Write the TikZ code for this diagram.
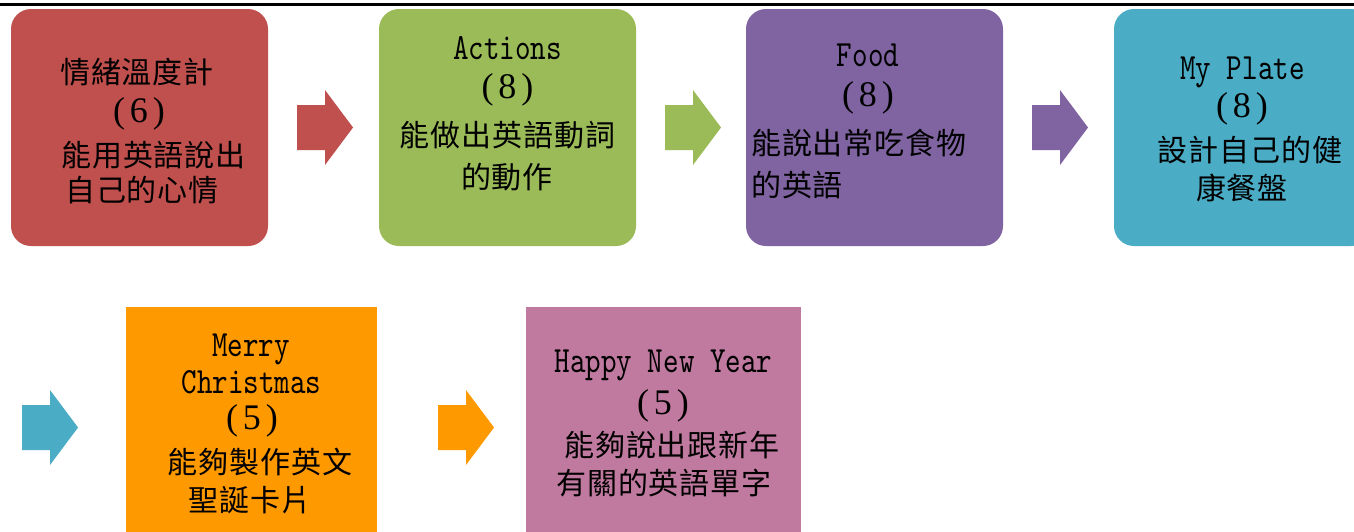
\documentclass[tikz,border=0pt]{standalone}
\usepackage{fontspec}
\newfontfamily\cjkfont[LetterSpace=3]{Noto Sans CJK TC}
\newfontfamily\latfont[FakeStretch=0.8]{lmmono10-regular.otf}
\newfontfamily\serfont{Liberation Serif}
\newcommand\zhtxt[1]{{\cjkfont\fontsize{30}{36}\selectfont #1}}
\newcommand\entxt[1]{{\latfont\fontsize{37}{44}\selectfont #1}}
\newcommand\partxt[1]{{\serfont\fontsize{36}{42}\selectfont(\kern5pt#1\kern5pt)}}
\definecolor{cred}{HTML}{C0504D}
\definecolor{cgreen}{HTML}{9BBB59}
\definecolor{cpurple}{HTML}{8064A2}
\definecolor{cteal}{HTML}{4BACC6}
\definecolor{corange}{HTML}{FF9900}
\definecolor{cpink}{HTML}{C0799F}
\begin{document}
\begin{tikzpicture}[x=1pt,y=-1pt,
  rbox/.style={rectangle, rounded corners=20pt, draw=none, inner sep=0pt,
    minimum width=257pt, minimum height=237pt},
  sbox/.style={rectangle, draw=none, inner sep=0pt, minimum height=253pt},
  tx/.style={anchor=base, inner sep=0pt, text=black},
  txl/.style={anchor=base west, inner sep=0pt, text=black},
  barrow/.pic={\fill (0,15) -- (28,15) -- (28,0) -- (56,37.5) -- (28,75) -- (28,60) -- (0,60) -- cycle;}
]
\useasboundingbox (0,0) rectangle (1354,531);
\clip (0,0) rectangle (1354,531);
\fill[white] (0,0) rectangle (1354,531);
\draw[line width=2.7pt] (0,4.7) -- (1354,4.7);

% row 1 boxes
\node[rbox, fill=cred] (b1) at (139.5,127.5) {};
\node[rbox, fill=cgreen] (b2) at (507.5,127.5) {};
\node[rbox, fill=cpurple] (b3) at (874.5,127.5) {};
\node[rbox, fill=cteal] (b4) at (1242.5,127.5) {};
% row 2 boxes
\node[sbox, fill=corange, minimum width=251pt] (b5) at (251.5,433.5) {};
\node[sbox, fill=cpink, minimum width=275pt] (b6) at (663.5,433.5) {};

% arrows
\pic[fill=cred] at (297,90) {barrow};
\pic[fill=cgreen] at (665,90) {barrow};
\pic[fill=cpurple] at (1032,90) {barrow};
\pic[fill=cteal] at (22,390) {barrow};
\pic[fill=corange] at (438,390) {barrow};

% box 1 text
\node[tx] (t1a) at (137,83) {\zhtxt{情緒溫度計}};
\node[tx] (t1b) at (139,122) {\partxt{6}};
\node[tx] (t1c) at (153.5,166) {\zhtxt{能用英語說出}};
\node[tx] (t1d) at (142,201) {\zhtxt{自己的心情}};
% box 2 text
\node[tx] (t2a) at (507.5,59) {\entxt{Actions}};
\node[tx] (t2b) at (507.5,98) {\partxt{8}};
\node[tx] (t2c) at (507.5,146) {\zhtxt{能做出英語動詞}};
\node[tx] (t2d) at (507,188) {\zhtxt{的動作}};
% box 3 text
\node[tx] (t3a) at (868,66) {\entxt{Food}};
\node[tx] (t3b) at (868,106) {\partxt{8}};
\node[txl] (t3c) at (751,154) {\zhtxt{能說出常吃食物}};
\node[txl] (t3d) at (751,196) {\zhtxt{的英語}};
% box 4 text
\node[tx] (t4a) at (1242.5,79) {\entxt{My Plate}};
\node[tx] (t4b) at (1242,117) {\partxt{8}};
\node[tx] (t4c) at (1250,161) {\zhtxt{設計自己的健}};
\node[tx] (t4d) at (1242,199) {\zhtxt{康餐盤}};
% box 5 text
\node[tx] (t5a) at (251,356) {\entxt{Merry}};
\node[tx] (t5b) at (251.5,393) {\entxt{Christmas}};
\node[tx] (t5c) at (252,429) {\partxt{5}};
\node[tx] (t5d) at (260,473) {\zhtxt{能夠製作英文}};
\node[tx] (t5e) at (250,511) {\zhtxt{聖誕卡片}};
% box 6 text
\node[tx] (t6a) at (663.5,372) {\entxt{Happy New Year}};
\node[tx] (t6b) at (663,414) {\partxt{5}};
\node[tx] (t6c) at (672,456) {\zhtxt{能夠說出跟新年}};
\node[tx] (t6d) at (664,494) {\zhtxt{有關的英語單字}};
\end{tikzpicture}
\end{document}
